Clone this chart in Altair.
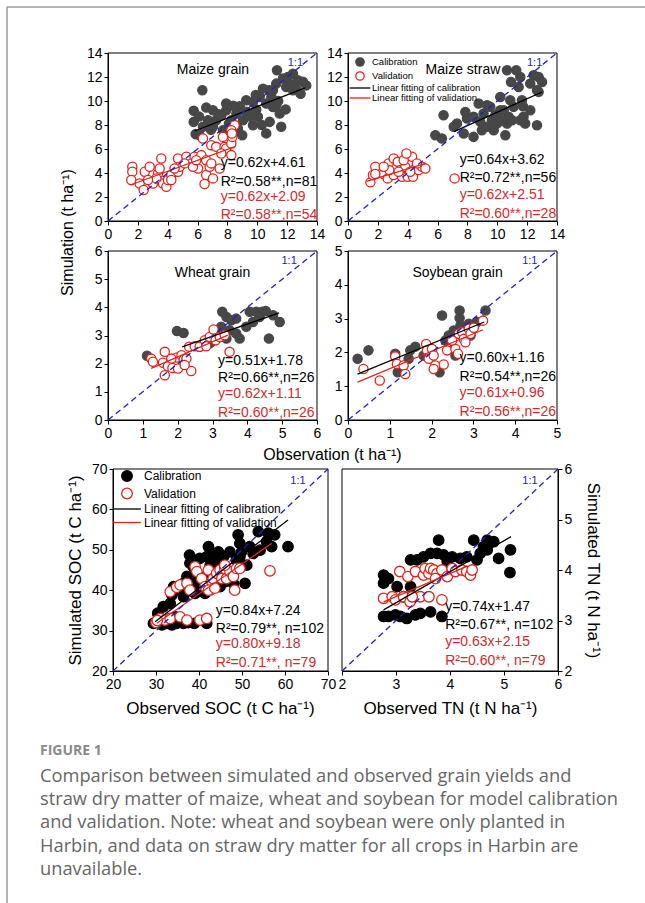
import altair as alt
import pandas as pd

W, H = 645, 903
FONT = "Liberation Sans"
RED = "#e2231a"
RED_TXT = "#d42a2a"
BLUE = "#2020c8"
GRAY = "#474747"
SERIES = ["Calibration", "Validation", "Linear fitting of calibration", "Linear fitting of validation"]

# ---------------- data: Maize grain ----------------
mg_cal_x = [5.74, 6.32, 5.74, 5.87, 6.58, 6.70, 7.03, 7.25, 7.59, 7.92, 8.26, 8.60, 8.82, 9.04, 9.26, 9.71, 9.93,
            10.16, 10.38, 10.60, 10.94, 11.27, 11.32, 11.72, 12.05, 12.39, 12.72, 13.06, 13.28, 11.05, 11.50, 11.60,
            10.83, 9.71, 8.99, 10.60, 7.70, 7.03, 6.36, 6.14, 7.92, 9.26, 11.27, 11.94, 12.39, 10.04, 8.48, 11.05,
            9.82, 6.9, 7.4, 8.1, 8.7, 9.5, 10.3, 11.9, 12.6, 12.9, 7.8, 8.4, 9.9, 10.8, 12.2, 6.1, 11.4]
mg_cal_y = [9.18, 10.90, 8.26, 7.24, 9.45, 8.40, 9.23, 8.40, 8.82, 9.23, 8.40, 8.95, 9.56, 8.40, 9.10, 9.92, 9.29,
            10.34, 11.03, 9.79, 10.34, 11.45, 12.56, 11.87, 12.00, 12.28, 11.73, 11.60, 11.30, 9.50, 8.95, 7.85,
            8.26, 7.98, 7.15, 7.30, 7.57, 7.85, 7.85, 7.15, 9.79, 10.06, 9.65, 11.17, 10.90, 8.68, 7.85, 10.90,
            8.95, 7.6, 8.9, 8.1, 7.7, 8.7, 8.0, 9.3, 11.0, 10.6, 7.2, 9.6, 10.5, 10.9, 11.4, 8.7, 10.0]
mg_val_x = [1.63, 1.63, 1.56, 2.12, 2.46, 2.39, 2.79, 3.01, 3.35, 3.57, 3.46, 3.68, 3.91, 4.02, 4.24, 4.24, 4.69,
            4.69, 4.80, 5.25, 5.80, 5.58, 6.25, 6.36, 6.03, 6.58, 6.58, 6.47, 6.81, 6.92, 7.25, 6.92, 7.03, 7.48,
            7.70, 7.81, 7.92, 8.26, 8.26, 8.33, 8.48, 8.26, 8.30, 5.69, 5.13, 3.24, 2.68, 4.46, 7.59, 5.91]
mg_val_y = [4.52, 4.10, 3.41, 3.13, 4.10, 2.58, 4.52, 3.13, 3.96, 5.21, 4.38, 3.13, 2.86, 3.41, 3.83, 3.41, 4.10,
            5.21, 4.52, 5.35, 5.35, 4.80, 5.49, 6.88, 4.38, 5.07, 3.83, 3.08, 4.52, 6.32, 6.18, 4.80, 3.55, 4.38,
            7.01, 6.18, 6.04, 5.49, 6.46, 7.01, 7.98, 7.57, 7.29, 4.52, 4.80, 3.55, 3.41, 4.38, 5.63, 5.07]
mg_fit_cal_x, mg_fit_cal_y = [5.8, 13.2], [7.5, 11.1]
mg_fit_val_x, mg_fit_val_y = [1.5, 8.5], [3.0, 6.2]
mg_eq = ["y=0.62x+4.61", "R\u00b2=0.58**,n=81", "y=0.62x+2.09", "R\u00b2=0.58**,n=54"]

# ---------------- data: Maize straw ----------------
ms_cal_x = [5.85, 6.40, 6.29, 7.08, 7.75, 7.97, 7.86, 8.41, 8.41, 8.75, 8.86, 9.08, 9.31, 9.53, 9.64, 9.87, 9.98,
            10.20, 10.31, 10.54, 10.65, 10.76, 10.87, 10.92, 10.99, 10.65, 11.27, 11.54, 11.65, 11.72, 11.54,
            11.87, 12.21, 12.43, 12.66, 12.77, 13.00, 12.66, 12.77, 11.43, 11.09, 9.76, 8.97, 7.30, 10.20, 11.76,
            12.21, 10.43, 9.31]
ms_cal_y = [7.15, 8.82, 6.88, 7.85, 7.29, 8.54, 9.09, 7.01, 8.68, 9.79, 8.26, 8.95, 7.85, 9.51, 8.40, 8.82, 8.12,
            9.23, 8.40, 7.15, 8.12, 8.68, 10.06, 11.59, 8.40, 12.56, 12.56, 12.00, 10.06, 9.56, 8.40, 8.12, 11.45,
            12.14, 10.90, 12.00, 11.59, 7.98, 10.76, 11.17, 9.51, 7.57, 7.57, 8.12, 10.34, 8.68, 9.23, 9.23, 9.65]
ms_val_x = [1.50, 1.67, 1.83, 2.39, 2.66, 2.72, 3.06, 3.06, 3.33, 3.50, 3.62, 3.84, 4.00, 4.29, 4.35, 4.51, 4.73,
            4.96, 5.18, 4.17, 1.83, 2.77, 3.73, 4.62, 7.14, 3.39, 2.39, 3.91]
ms_val_y = [3.22, 3.83, 4.52, 3.91, 3.55, 4.80, 5.21, 3.83, 4.93, 4.24, 3.69, 4.52, 3.69, 5.35, 3.69, 4.38, 4.24,
            4.52, 4.38, 4.10, 3.91, 4.24, 5.07, 4.80, 3.55, 4.10, 4.52, 5.63]
ms_fit_cal_x, ms_fit_cal_y = [7.1, 13.0], [7.45, 10.75]
ms_fit_val_x, ms_fit_val_y = [1.25, 5.2], [3.3, 4.8]
ms_eq = ["y=0.64x+3.62", "R\u00b2=0.72**,n=56", "y=0.62x+2.51", "R\u00b2=0.60**,n=28"]

# ---------------- data: Wheat grain ----------------
wg_cal_x = [1.12, 1.98, 2.17, 3.28, 3.40, 3.54, 3.68, 4.07, 4.26, 4.43, 4.53, 4.16, 4.93, 4.62, 3.68, 3.49, 3.25,
            3.21, 3.06, 2.92, 3.78, 3.40, 3.97, 4.35, 4.74, 2.63]
wg_cal_y = [2.28, 3.16, 3.09, 3.84, 3.66, 3.54, 3.60, 3.84, 3.84, 3.84, 3.87, 3.48, 3.48, 2.89, 3.07, 3.19, 3.31,
            3.01, 2.83, 2.72, 2.89, 2.89, 3.31, 3.66, 3.72, 2.60]
wg_val_x = [1.24, 1.29, 1.63, 1.58, 1.72, 1.63, 1.85, 1.98, 2.01, 2.11, 2.17, 2.25, 2.39, 2.33, 2.49, 2.63, 2.78,
            2.82, 2.92, 3.03, 3.09, 3.21, 3.35, 3.49, 2.20, 1.82]
wg_val_y = [2.18, 2.07, 2.42, 2.03, 1.91, 1.59, 1.85, 2.22, 1.83, 2.30, 2.13, 2.18, 1.74, 2.60, 2.62, 2.60, 2.83,
            2.62, 2.95, 3.21, 2.83, 2.95, 3.01, 2.42, 1.95, 2.18]
wg_fit_cal_x, wg_fit_cal_y = [2.13, 4.91], [2.6, 3.8]
wg_fit_val_x, wg_fit_val_y = [1.24, 3.44], [1.83, 3.01]
wg_eq = ["y=0.51x+1.78", "R\u00b2=0.66**,n=26", "y=0.62x+1.11", "R\u00b2=0.60**,n=26"]

# ---------------- data: Soybean grain ----------------
sg_cal_x = [0.23, 0.49, 1.13, 1.19, 1.45, 1.61, 1.81, 2.01, 2.19, 2.25, 2.33, 2.57, 2.67, 2.67, 2.69, 2.85, 2.93,
            3.01, 3.29, 2.41, 2.53, 2.89, 2.01, 1.49, 2.53, 3.09]
sg_cal_y = [1.81, 2.06, 1.96, 1.41, 1.81, 2.17, 1.91, 1.96, 1.41, 3.09, 2.35, 1.91, 3.24, 3.02, 2.80, 2.75, 2.50,
            2.80, 3.24, 2.50, 2.65, 2.85, 2.06, 2.06, 2.11, 2.90]
sg_val_x = [0.37, 0.76, 1.13, 1.17, 1.33, 1.37, 1.87, 1.89, 1.93, 2.01, 2.05, 2.09, 2.05, 2.29, 2.37, 2.49, 2.57,
            2.63, 2.65, 2.73, 2.77, 2.81, 2.89, 2.93, 3.01, 3.23]
sg_val_y = [1.51, 1.17, 1.88, 1.66, 1.61, 1.36, 2.25, 2.06, 1.81, 2.10, 1.91, 1.61, 1.51, 1.64, 2.06, 2.35, 2.10,
            1.96, 2.55, 2.60, 2.40, 2.30, 2.70, 2.55, 2.73, 2.94]
sg_fit_cal_x, sg_fit_cal_y = [0.23, 3.26], [1.36, 2.9]
sg_fit_val_x, sg_fit_val_y = [0.23, 3.23], [1.12, 2.67]
sg_eq = ["y=0.60x+1.16", "R\u00b2=0.54**,n=26", "y=0.61x+0.96", "R\u00b2=0.56**,n=26"]

# ---------------- data: SOC ----------------
soc_cal_x = [29.4, 30.6, 31.4, 32.5, 33.7, 34.8, 36.4, 37.5, 38.9, 41.8, 30.4, 31.7, 33.3, 33.7, 34.1, 35.6, 36.4,
             37.2, 37.8, 38.7, 39.5, 40.2, 41.0, 41.8, 42.2, 42.6, 43.3, 43.7, 44.5, 45.3, 45.7, 46.4, 47.2, 48.0,
             48.7, 49.1, 49.9, 50.7, 51.1, 51.8, 52.6, 53.8, 56.1, 56.9, 57.6, 60.7, 55.7, 49.5, 39.1, 41.4, 44.9,
             46.0, 39.9, 37.9, 49.5, 54.2, 43.3, 47.9, 42.2, 38.7, 36.4, 34.5, 35.6]
soc_cal_y = [31.8, 32.5, 31.4, 31.8, 31.4, 31.8, 31.8, 32.0, 31.8, 31.8, 34.3, 35.9, 36.7, 38.8, 40.9, 40.0, 41.7,
             43.4, 48.7, 45.8, 44.2, 47.9, 42.1, 48.3, 50.8, 46.2, 48.3, 42.5, 49.5, 46.7, 48.3, 44.2, 49.5, 41.7,
             47.5, 53.7, 49.5, 41.7, 46.2, 50.8, 49.1, 54.5, 54.1, 50.8, 53.7, 50.8, 52.0, 48.3, 39.2, 39.2, 40.9,
             42.1, 41.7, 46.7, 51.6, 49.9, 46.2, 43.4, 43.8, 41.7, 38.4, 33.4, 32.6]
soc_val_x = [30.0, 31.0, 32.1, 33.3, 35.6, 37.2, 40.2, 41.8, 33.3, 34.8, 35.6, 37.2, 37.9, 39.1, 39.5, 40.6, 41.4,
             42.2, 42.6, 43.0, 43.3, 44.1, 44.9, 45.3, 46.0, 46.4, 47.2, 48.0, 48.3, 48.7, 46.0, 49.5, 42.2, 43.7,
             56.5, 30.3]
soc_val_y = [32.0, 33.0, 32.6, 33.0, 33.4, 32.6, 32.6, 33.0, 39.6, 40.7, 41.3, 41.7, 40.0, 45.8, 44.6, 42.9, 40.9,
             45.0, 40.0, 42.1, 42.9, 44.2, 45.0, 42.9, 45.4, 42.9, 44.6, 43.4, 40.0, 45.4, 46.2, 45.4, 40.0, 40.5,
             44.8, 32.5]
soc_fit_cal_x, soc_fit_cal_y = [29.8, 60.7], [32.2, 57.4]
soc_fit_val_x, soc_fit_val_y = [30.2, 56.9], [31.8, 51.6]
soc_eq = ["y=0.84x+7.24", "R\u00b2=0.79**, n=102", "y=0.80x+9.18", "R\u00b2=0.71**, n=79"]

# ---------------- data: TN ----------------
tn_cal_x = [2.77, 2.77, 2.77, 2.86, 2.86, 2.99, 3.08, 3.20, 3.36, 3.45, 3.64, 3.85, 3.39, 3.51, 3.64, 3.76, 3.88,
            4.04, 3.79, 4.19, 4.31, 4.44, 4.50, 4.62, 4.69, 4.81, 4.90, 5.12, 5.11, 3.27, 3.14, 4.69, 4.56, 3.27,
            3.95, 3.02]
tn_cal_y = [3.08, 3.74, 3.90, 3.83, 3.08, 3.11, 3.08, 3.04, 3.11, 3.14, 3.17, 3.08, 4.20, 4.26, 4.33, 4.33, 4.30,
            4.26, 4.59, 4.23, 4.26, 4.59, 4.20, 4.46, 4.59, 4.56, 4.23, 4.40, 3.95, 3.67, 3.47, 4.40, 4.33, 4.20,
            4.17, 3.67]
tn_val_x = [2.77, 2.93, 2.99, 3.07, 3.14, 3.22, 3.26, 3.36, 3.45, 3.51, 3.54, 3.61, 3.61, 3.64, 3.70, 3.76, 3.85,
            3.85, 3.95, 4.04, 4.10, 4.22, 4.31, 4.38, 4.41, 3.30, 3.73]
tn_val_y = [3.44, 3.47, 3.41, 3.97, 3.47, 3.87, 3.37, 3.97, 3.47, 3.90, 4.03, 3.93, 3.47, 4.03, 4.00, 3.93, 4.00,
            3.41, 3.87, 4.03, 3.97, 4.00, 3.97, 3.90, 4.00, 3.47, 3.83]
tn_fit_cal_x, tn_fit_cal_y = [2.77, 5.13], [3.21, 4.66]
tn_fit_val_x, tn_fit_val_y = [2.77, 4.31], [3.37, 4.07]
tn_eq = ["y=0.74x+1.47", "R\u00b2=0.67**, n=102", "y=0.63x+2.15", "R\u00b2=0.60**, n=79"]

caption_lines = [
    "Comparison between simulated and observed grain yields and",
    "straw dry matter of maize, wheat and soybean for model calibration",
    "and validation. Note: wheat and soybean were only planted in",
    "Harbin, and data on straw dry matter for all crops in Harbin are",
    "unavailable.",
]

# ---------------- layout of panels ----------------
PANELS = [
    dict(title="Maize grain", dom=[0, 14], ticks=list(range(0, 15, 2)), box=(108, 53, 317, 221),
         cal=(mg_cal_x, mg_cal_y), val=(mg_val_x, mg_val_y),
         fcal=(mg_fit_cal_x, mg_fit_cal_y), fval=(mg_fit_val_x, mg_fit_val_y), eq=mg_eq,
         color=GRAY, size=85, title_xy=(7.03, 12.56), one_xy=(12.55, 13.15), eq_x=7.55,
         eq_y=[4.8, 3.22, 2.02, 0.5], fs=14,
         yaxis=dict(title="Simulation (t ha\u207b\u00b9)", titleX=-41, titleY=232, titleFontSize=16)),
    dict(title="Maize straw", dom=[0, 14], ticks=list(range(0, 15, 2)), box=(348, 53, 557, 221),
         cal=(ms_cal_x, ms_cal_y), val=(ms_val_x, ms_val_y),
         fcal=(ms_fit_cal_x, ms_fit_cal_y), fval=(ms_fit_val_x, ms_fit_val_y), eq=ms_eq,
         color=GRAY, size=85, title_xy=(7.7, 12.6), one_xy=(12.5, 13.15), eq_x=7.48,
         eq_y=[5.07, 3.55, 2.16, 0.55], fs=14,
         legend=dict(legendX=355, legendY=57, symbolSize=70, labelFontSize=9.5, labelOffset=7, rowPadding=0),
         path="M-2.5,0H2.5"),
    dict(title="Wheat grain", dom=[0, 6], ticks=list(range(0, 7)), box=(108, 251, 317, 420),
         cal=(wg_cal_x, wg_cal_y), val=(wg_val_x, wg_val_y),
         fcal=(wg_fit_cal_x, wg_fit_cal_y), fval=(wg_fit_val_x, wg_fit_val_y), eq=wg_eq,
         color=GRAY, size=85, title_xy=(3.0, 5.22), one_xy=(5.2, 5.64), eq_x=3.16,
         eq_y=[2.1, 1.48, 0.91, 0.26], fs=14,
         xaxis=dict(title="Observation (t ha\u207b\u00b9)", titleX=332, titleY=34, titleFontSize=16)),
    dict(title="Soybean grain", dom=[0, 5], ticks=list(range(0, 6)), box=(348, 251, 557, 420),
         cal=(sg_cal_x, sg_cal_y), val=(sg_val_x, sg_val_y),
         fcal=(sg_fit_cal_x, sg_fit_cal_y), fval=(sg_fit_val_x, sg_fit_val_y), eq=sg_eq,
         color=GRAY, size=85, title_xy=(2.62, 4.36), one_xy=(4.35, 4.7), eq_x=2.67,
         eq_y=[1.84, 1.28, 0.79, 0.23], fs=14),
    dict(title=None, dom=[20, 70], ticks=list(range(20, 71, 10)), box=(113, 469, 328, 671),
         cal=(soc_cal_x, soc_cal_y), val=(soc_val_x, soc_val_y),
         fcal=(soc_fit_cal_x, soc_fit_cal_y), fval=(soc_fit_val_x, soc_fit_val_y), eq=soc_eq,
         color="black", size=110, title_xy=None, one_xy=(63.0, 67.1), eq_x=43.9,
         eq_y=[34.9, 30.3, 26.7, 21.9], fs=14,
         legend=dict(legendX=121, legendY=470, symbolSize=113, labelFontSize=12, labelOffset=11, rowPadding=1.5),
         path="M-2.6,0H2.6",
         xaxis=dict(title="Observed SOC (t C ha\u207b\u00b9)", titleX=220, titleY=37, titleFontSize=17),
         yaxis=dict(title="Simulated SOC (t C ha\u207b\u00b9)", titleX=-38, titleY=570, titleFontSize=17)),
    dict(title=None, dom=[2, 6], ticks=list(range(2, 7)), box=(342, 469, 558, 671),
         cal=(tn_cal_x, tn_cal_y), val=(tn_val_x, tn_val_y),
         fcal=(tn_fit_cal_x, tn_fit_cal_y), fval=(tn_fit_val_x, tn_fit_val_y), eq=tn_eq,
         color="black", size=110, title_xy=None, one_xy=(5.48, 5.77), eq_x=3.91,
         eq_y=[3.27, 2.91, 2.58, 2.2], fs=14, yorient="right",
         xaxis=dict(title="Observed TN (t N ha\u207b\u00b9)", titleX=450, titleY=37, titleFontSize=17),
         yaxis=dict(title="Simulated TN (t N ha\u207b\u00b9)", titleX=34, titleY=570, titleFontSize=17,
                    titleAngle=90)),
]


def build_panel(p):
    d0, d1 = p["dom"]
    L, T, R, B = p["box"]
    xs = alt.Scale(domain=[d0, d1], range=[L, R], nice=False, zero=False)
    ys = alt.Scale(domain=[d0, d1], range=[B, T], nice=False, zero=False)
    xkw = dict(title=None)
    xkw.update(p.get("xaxis", {}))
    ykw = dict(title=None)
    ykw.update(p.get("yaxis", {}))
    for kw in (xkw, ykw):
        if kw.get("title"):
            kw.setdefault("titleBaseline", "middle")
            kw.setdefault("titleAlign", "center")
    xa = alt.Axis(orient="bottom", offset=B - H, values=p["ticks"], **xkw)
    yorient = p.get("yorient", "left")
    yoff = -L if yorient == "left" else R - W
    ya = alt.Axis(orient=yorient, offset=yoff, values=p["ticks"], **ykw)

    # identical scale + axis on every layer so the shared axis merges cleanly
    def enc(chart):
        return chart.encode(x=alt.X("x:Q", scale=xs, axis=xa), y=alt.Y("y:Q", scale=ys, axis=ya))

    frame = enc(alt.Chart(pd.DataFrame({"x": [d0], "x2": [d1], "y": [d0], "y2": [d1]}))
                .mark_rect(fill="white", fillOpacity=0, stroke="black", strokeWidth=1)).encode(x2="x2:Q", y2="y2:Q")

    cx, cy = p["cal"]
    vx, vy = p["val"]
    pts = pd.DataFrame({"x": list(cx) + list(vx), "y": list(cy) + list(vy),
                        "series": ["Calibration"] * len(cx) + ["Validation"] * len(vx)})
    if p.get("legend"):
        leg = alt.Legend(orient="none", title=None, padding=0, symbolStrokeWidth=1.3,
                         labelFont=FONT, labelColor="black", **p["legend"])
    else:
        leg = None
    path = p.get("path", "M-2.3,0H2.3")
    points = enc(alt.Chart(pts).mark_point(size=p["size"], strokeWidth=1.3, opacity=1)).encode(
        fill=alt.Fill("series:N", scale=alt.Scale(domain=SERIES, range=[p["color"], "white", "transparent", "transparent"]), legend=leg),
        stroke=alt.Stroke("series:N", scale=alt.Scale(domain=SERIES, range=[p["color"], RED, "black", RED]), legend=leg),
        shape=alt.Shape("series:N", scale=alt.Scale(domain=SERIES, range=["circle", "circle", path, path]), legend=leg),
    )

    def seg(xv, yv, color, dash=None):
        kw = dict(color=color, strokeWidth=1.3)
        if dash:
            kw["strokeDash"] = dash
        return enc(alt.Chart(pd.DataFrame({"x": xv, "y": yv})).mark_line(**kw))

    fit_c = seg(p["fcal"][0], p["fcal"][1], "black")
    fit_v = seg(p["fval"][0], p["fval"][1], RED)
    one = seg([d0, d1], [d0, d1], BLUE, [6, 4])

    def txt(xv, yv, labels, color, size, align):
        df = pd.DataFrame({"x": xv, "y": yv, "t": labels})
        return enc(alt.Chart(df).mark_text(font=FONT, fontSize=size, color=color, align=align,
                                           baseline="middle")).encode(text="t:N")

    layers = [frame, points, fit_c, fit_v, one]
    if p["title_xy"]:
        layers.append(txt([p["title_xy"][0]], [p["title_xy"][1]], [p["title"]], "black", 14, "center"))
    layers.append(txt([p["one_xy"][0]], [p["one_xy"][1]], ["1:1"], BLUE, 11, "center"))
    ex = p["eq_x"]
    layers.append(txt([ex, ex], p["eq_y"][:2], p["eq"][:2], "black", p["fs"], "left"))
    layers.append(txt([ex, ex], p["eq_y"][2:], p["eq"][2:], RED_TXT, p["fs"], "left"))
    return alt.layer(*layers)


panel_layers = [build_panel(p) for p in PANELS]

border_top = alt.Chart().mark_rule(color="#9a9a9a", strokeWidth=1.5).encode(
    x=alt.value(7), x2=alt.value(W), y=alt.value(7))
border_left = alt.Chart().mark_rule(color="#9a9a9a", strokeWidth=1.5).encode(
    x=alt.value(7), y=alt.value(7), y2=alt.value(H))
fig_label = alt.Chart().mark_text(text="FIGURE 1", font="Open Sans", fontSize=14, fontWeight="bold",
                                  color="#8a8a8a", align="left", baseline="middle").encode(
    x=alt.value(40), y=alt.value(751))
caption = alt.Chart().mark_text(font="Open Sans", fontSize=18.3, color="#666666", align="left",
                                baseline="alphabetic", lineHeight=23.2).encode(
    x=alt.value(40), y=alt.value(782), text=alt.value(caption_lines))

chart = alt.layer(*panel_layers, border_top, border_left, fig_label, caption).resolve_scale(
    x="independent", y="independent", fill="independent", stroke="independent", shape="independent"
).properties(
    width=W, height=H, autosize=alt.AutoSizeParams(type="none"), padding=0, background="white"
).configure_view(stroke="transparent").configure_axis(
    labelFont=FONT, labelFontSize=14, labelColor="black", titleFont=FONT, titleFontWeight="normal",
    titleColor="black", domainColor="black", domainWidth=1, tickColor="black", tickWidth=1, tickSize=4,
    labelPadding=2, grid=False, labelFlush=False, labelOverlap=False
)

chart.save("out.html", embed_options={"renderer": "svg", "actions": False})
